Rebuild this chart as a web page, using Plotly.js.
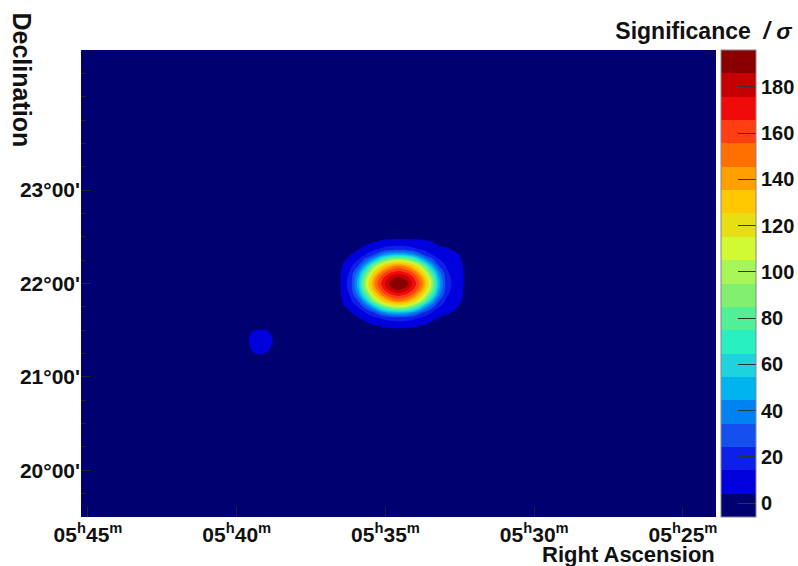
<!DOCTYPE html>
<html>
<head>
<meta charset="utf-8">
<script src="https://cdn.plot.ly/plotly-3.0.1.min.js"></script>
<style>html,body{margin:0;padding:0;background:#fff;}#chart{width:798px;height:566px;}</style>
</head>
<body>
<div id="chart"></div>
<script>
// Grid: Right Ascension in minutes of time (05h = 300 min), ascending
const raMinutes = [323.8, 332.21, 332.61, 332.95, 333.22, 333.48, 333.75, 334.02, 334.29, 334.56,
  334.83, 335.10, 335.37, 335.64, 335.90, 336.17, 336.51, 336.91,
  338.61, 338.82, 339.02, 339.22, 339.42, 339.62, 339.82, 345.3];
// Grid: Declination in degrees, ascending
const decDegrees = [19.45, 21.17, 21.24, 21.30, 21.38, 21.46, 21.55, 21.63, 21.69, 21.75, 21.81,
  21.88, 21.94, 22.00, 22.06, 22.12, 22.19, 22.25, 22.31, 22.37, 22.45, 22.54, 24.55];
// Significance values (rows follow decDegrees, columns follow raMinutes)
const sig_19_45 = [0, 0,0,0,0,0,0,0,0,0,0,0,0,0,0,0,0,0, 0,0,0,0,0,0,0, 0];
const sig_21_17 = [0, 0,0,0,0,0,0,0,0,0,0,0,0,0,0,0,0,0, 0,0,0,0,0,0,0, 0];
const sig_21_24 = [0, 0,0,0,0,0,0,0,0,0,0,0,0,0,0,0,0,0, 0,0,2,4,2,0,0, 0];
const sig_21_30 = [0, 0,0,0,0,0,0,0,0,0,0,0,0,0,0,0,0,0, 0,2,8,9,7,1,0, 0];
const sig_21_38 = [0, 0,0,0,0,0,0,0,0,0,0,0,0,0,0,0,0,0, 0,5,10,11,9,3,0, 0];
const sig_21_46 = [0, 0,0,0,0,0,0,0,0,0,0,0,0,0,0,0,0,0, 0,3,8,8,7,2,0, 0];
const sig_21_55 = [0, 0,0,0,0,1.9,3.6,4.9,5.7,6,5.7,4.9,3.6,1.9,0,0,0,0, 0,0,0,0,0,0,0, 0];
const sig_21_63 = [0, 0,1,2.5,3.8,6.4,12,16,19,20,19,16,12,6.4,3.8,1.1,0,0, 0,0,0,0,0,0,0, 0];
const sig_21_69 = [0, 0,3,5,8,15.5,25,40,49,52,49,40,25,15.5,8,3.8,0,0, 0,0,0,0,0,0,0, 0];
const sig_21_75 = [0, 0.5,4.5,7,15.5,31,52,80,99,106,99,80,52,31,15.5,6.4,1.9,0, 0,0,0,0,0,0,0, 0];
const sig_21_81 = [0, 1,6,12,25,52,93,122,140,146,140,122,93,52,25,12,2.5,0, 0,0,0,0,0,0,0, 0];
const sig_21_88 = [0, 1.5,7,16,40,80,122,150,164,170,164,150,122,80,40,16,3.5,0, 0,0,0,0,0,0,0, 0];
const sig_21_94 = [0, 1.5,7.5,19,49,99,140,164,181,189,181,164,140,99,49,19,3.9,0, 0,0,0,0,0,0,0, 0];
const sig_22_00 = [0, 1.5,8,20,52,106,146,170,189,196,189,170,146,106,52,20,4,0, 0,0,0,0,0,0,0, 0];
const sig_22_06 = [0, 1.5,8,19,49,99,140,164,181,189,181,164,140,99,49,19,3.9,0, 0,0,0,0,0,0,0, 0];
const sig_22_12 = [0, 1.5,7.5,16,40,80,122,150,164,170,164,150,122,80,40,16,3.5,0, 0,0,0,0,0,0,0, 0];
const sig_22_19 = [0, 1.5,7,13,25,52,93,122,140,146,140,122,93,52,25,12,2.5,0, 0,0,0,0,0,0,0, 0];
const sig_22_25 = [0, 1,6,9,16,31,52,80,99,106,99,80,52,31,15.5,6.4,1.9,0, 0,0,0,0,0,0,0, 0];
const sig_22_31 = [0, 0.5,5,7,9,15.5,25,40,49,52,49,40,25,15.5,8,3.8,0,0, 0,0,0,0,0,0,0, 0];
const sig_22_37 = [0, 0,2.5,4.8,5.5,7.5,12,16,19,20,19,16,12,6.4,3.8,1.1,0,0, 0,0,0,0,0,0,0, 0];
const sig_22_45 = [0, 0,0,1,2,4.2,5.2,5.5,5.7,6,5.7,4.9,3.6,1.9,0,0,0,0, 0,0,0,0,0,0,0, 0];
const sig_22_54 = [0, 0,0,0,0,0,0,0,0,0,0,0,0,0,0,0,0,0, 0,0,0,0,0,0,0, 0];
const sig_24_55 = [0, 0,0,0,0,0,0,0,0,0,0,0,0,0,0,0,0,0, 0,0,0,0,0,0,0, 0];

const raTickVals = [345, 340, 335, 330, 325];
const raTickText = ['05<sup>h</sup>45<sup>m</sup>', '05<sup>h</sup>40<sup>m</sup>', '05<sup>h</sup>35<sup>m</sup>',
  '05<sup>h</sup>30<sup>m</sup>', '05<sup>h</sup>25<sup>m</sup>'];
const decTickVals = [20, 21, 22, 23];
const decTickText = ["20°00'", "21°00'", "22°00'", "23°00'"];
const sigTickVals = [0, 20, 40, 60, 80, 100, 120, 140, 160, 180];

const bandColors = ['rgb(0,0,112)', 'rgb(0,0,222)', 'rgb(12,32,232)', 'rgb(20,80,240)', 'rgb(0,130,240)',
  'rgb(0,180,240)', 'rgb(30,210,222)', 'rgb(40,240,192)', 'rgb(82,240,150)', 'rgb(130,240,110)',
  'rgb(168,245,88)', 'rgb(210,250,50)', 'rgb(232,222,20)', 'rgb(255,200,0)', 'rgb(255,160,0)',
  'rgb(255,112,0)', 'rgb(255,62,20)', 'rgb(240,10,10)', 'rgb(196,0,0)', 'rgb(138,0,0)'];

const zMatrix = [sig_19_45, sig_21_17, sig_21_24, sig_21_30, sig_21_38, sig_21_46, sig_21_55, sig_21_63,
  sig_21_69, sig_21_75, sig_21_81, sig_21_88, sig_21_94, sig_22_00, sig_22_06, sig_22_12, sig_22_19,
  sig_22_25, sig_22_31, sig_22_37, sig_22_45, sig_22_54, sig_24_55];
const colorscale = bandColors.map((c, i) => [i / (bandColors.length - 1), c]);

const fam = 'Arial, "Liberation Sans", sans-serif';
const tickFont = {family: fam, size: 21, color: '#111', weight: 700};

const trace = {
  type: 'contour',
  x: raMinutes,
  y: decDegrees,
  z: zMatrix,
  zmin: -6, zmax: 196,
  autocontour: false,
  contours: {start: 4.1, end: 186, size: 10.1, coloring: 'fill', showlines: false},
  line: {width: 0, smoothing: 1.3},
  colorscale: colorscale,
  hoverinfo: 'skip',
  colorbar: {
    x: 1.0079, xanchor: 'left', xpad: 0, ypad: 0, y: 0.5, yanchor: 'middle',
    len: 1, lenmode: 'fraction', thickness: 35, thicknessmode: 'pixels',
    outlinewidth: 1, outlinecolor: '#888',
    tickmode: 'array', tickvals: sigTickVals,
    ticks: 'inside', ticklen: 18, tickwidth: 1, tickcolor: '#333',
    tickfont: {family: fam, size: 20, color: '#111', weight: 700}
  }
};

const layout = {
  width: 798, height: 566,
  margin: {l: 81, r: 82, t: 50, b: 49, autoexpand: false},
  paper_bgcolor: '#ffffff',
  plot_bgcolor: 'rgb(0,0,112)',
  showlegend: false,
  title: {
    text: 'Significance&nbsp;&nbsp;<i>/ σ</i>',
    xref: 'container', yref: 'container', x: 0.992, xanchor: 'right', y: 0.946, yanchor: 'middle',
    font: {family: fam, size: 23, color: '#111', weight: 700}
  },
  xaxis: {
    range: [345.235, 323.89], showgrid: false, zeroline: false,
    tickmode: 'array', tickvals: raTickVals, ticktext: raTickText,
    ticks: 'inside', ticklen: 10, tickcolor: '#222', tickfont: tickFont,
    ticklabelstandoff: 3,
    showline: false, mirror: false
  },
  yaxis: {
    range: [19.5, 24.5], showgrid: false, zeroline: false,
    tickmode: 'array', tickvals: decTickVals, ticktext: decTickText,
    ticks: 'inside', ticklen: 10, tickcolor: '#222', tickfont: tickFont,
    minor: {ticks: 'inside', ticklen: 5, tickcolor: '#222', dtick: 0.25, tick0: 0, showgrid: false},
    showline: false
  },
  annotations: [
    {text: 'Right Ascension', xref: 'paper', yref: 'paper', x: 1.0016, y: -0.081, xanchor: 'right', yanchor: 'middle',
     showarrow: false, font: {family: fam, size: 22, color: '#111', weight: 700}},
    {text: 'Declination', xref: 'paper', yref: 'paper', x: -0.0929, y: 1.0857, xanchor: 'center', yanchor: 'top',
     textangle: 90, showarrow: false, font: {family: fam, size: 25, color: '#111', weight: 700}}
  ]
};

Plotly.newPlot('chart', [trace], layout, {staticPlot: true, displayModeBar: false});
</script>
</body>
</html>
